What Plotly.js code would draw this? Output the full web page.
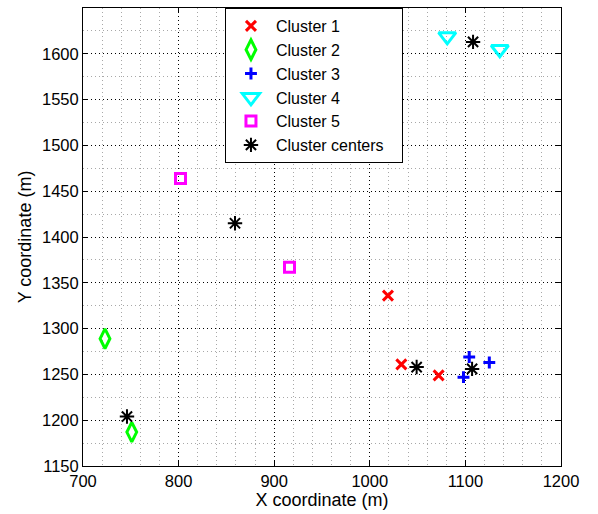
<!DOCTYPE html>
<html><head><meta charset="utf-8">
<script src="https://cdn.plot.ly/plotly-3.0.1.min.js"></script>
<style>html,body{margin:0;padding:0;background:#fff;}#chart{width:598px;height:514px;}</style>
</head><body><div id="chart"></div>
<script>
const seriesNames = ["Cluster 1","Cluster 2","Cluster 3","Cluster 4","Cluster 5","Cluster centers"];
const c1x = [1019, 1033, 1072];
const c1y = [1336, 1261, 1249];
const c2x = [723, 751];
const c2y = [1289, 1187];
const c3x = [1104, 1125, 1098];
const c3y = [1269, 1263, 1247];
const c4x = [1081, 1136];
const c4y = [1619, 1605];
const c5x = [802, 916];
const c5y = [1464, 1367];
const cenx = [1049, 1107, 746, 859, 1108];
const ceny = [1258, 1256, 1204, 1415, 1613];

const fam = "Liberation Sans, Arial, sans-serif";
const tickFont = {family: fam, size: 16.5, color: "#000"};
const titleFont = {family: fam, size: 18, color: "#000"};
const legFont = {family: fam, size: 16, color: "#000"};
function tr(name, x, y, symbol, color, size, lw) {
  return {type: "scatter", mode: "markers", name: name, x: x, y: y,
    marker: {symbol: symbol, size: size, color: color, line: {color: color, width: lw}}};
}
const data = [
  tr(seriesNames[0], c1x, c1y, "x-thin", "#ff0000", 10, 3),
  tr(seriesNames[1], c2x, c2y, "diamond-tall-open", "#00ff00", 14, 3),
  tr(seriesNames[2], c3x, c3y, "cross-thin", "#0000ff", 8.5, 3),
  tr(seriesNames[3], c4x, c4y, "triangle-down-open", "#00ffff", 15, 3),
  tr(seriesNames[4], c5x, c5y, "square-open", "#ff00ff", 10, 3),
  tr(seriesNames[5] + "\u00a0\u00a0\u00a0", cenx, ceny, "asterisk-open", "#000000", 12, 2)
];
const axisCommon = {
  showline: true, linecolor: "#000", linewidth: 1, mirror: "ticks",
  ticks: "inside", ticklen: 5, tickcolor: "#000", tickwidth: 1,
  showgrid: true, gridcolor: "#000", griddash: "1px,3px", gridwidth: 1,
  zeroline: false, tickfont: tickFont
};
const layout = {
  width: 598, height: 514,
  margin: {l: 83, r: 37, t: 8, b: 48},
  paper_bgcolor: "#fff", plot_bgcolor: "#fff",
  font: tickFont,
  showlegend: true,
  xaxis: Object.assign({}, axisCommon, {
    range: [700, 1200], dtick: 100, tick0: 700,
    minor: {dtick: 20, showgrid: true, gridcolor: "#a8a8a8", griddash: "1px,3px", gridwidth: 1},
    title: {text: "X coordinate (m)", font: titleFont, standoff: 1}
  }),
  yaxis: Object.assign({}, axisCommon, {
    range: [1150, 1650], dtick: 50, tick0: 1150,
    minor: {dtick: 25, showgrid: true, gridcolor: "#a8a8a8", griddash: "1px,3px", gridwidth: 1},
    title: {text: "Y coordinate (m)", font: titleFont, standoff: 5}
  }),
  legend: {
    x: 0.297, y: 1, xanchor: "left", yanchor: "top",
    bgcolor: "#fff", bordercolor: "#000", borderwidth: 1,
    font: legFont, itemwidth: 40, tracegroupgap: 0
  }
};
Plotly.newPlot("chart", data, layout, {displayModeBar: false, staticPlot: true});
</script></body></html>
